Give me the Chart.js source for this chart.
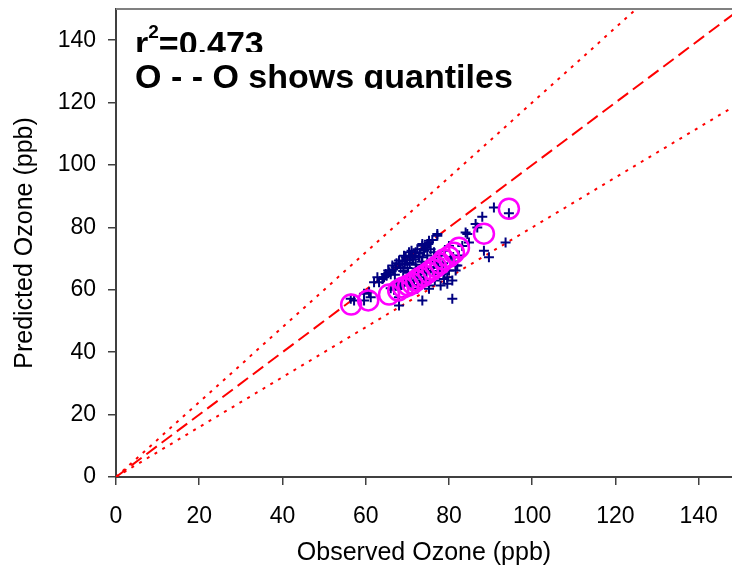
<!DOCTYPE html>
<html>
<head>
<meta charset="utf-8">
<script src="https://cdn.jsdelivr.net/npm/chart.js@4/dist/chart.umd.min.js"></script>
<style>
  html, body { margin: 0; padding: 0; background: #fff; }
  #wrap { width: 732px; height: 572px; }
</style>
</head>
<body>
<div id="wrap"><canvas id="ozoneChart" width="732" height="572"></canvas></div>
<script>
// observed vs predicted ozone, one point per day (ppb)
const obsX = [
  56.4, 57.2, 59.6, 59.6, 60.8, 61.2, 62.0, 62.8, 63.2, 64.4,
  64.8, 65.6, 66.4, 67.2, 68.0, 68.0, 69.2, 69.6, 70.4, 70.8,
  72.0, 73.6, 73.6, 74.8, 75.2, 75.2, 77.2, 77.2, 84.0, 84.4,
  86.4, 86.8, 88.0, 90.8, 94.4, 93.6, 88.4, 89.6, 84.8, 68.0,
  68.0, 73.6, 80.8, 75.2, 75.2, 78.0, 74.0, 77.6, 79.2, 79.6,
  78.8, 79.6, 80.0, 80.8, 81.6, 81.6, 82.0, 72.4, 70.8, 71.2,
  73.6, 64.0, 65.0, 65.4, 66.0, 66.6, 67.0, 67.4, 68.4, 68.8,
  69.0, 69.4, 70.0, 70.0, 70.6, 71.0, 71.4, 71.8, 72.0, 72.4,
  72.8, 73.0, 73.4, 74.0, 74.4, 74.8, 75.6, 76.0, 76.4, 67.6,
  69.6, 71.0, 72.6, 74.0, 75.6, 77.0, 78.0, 79.0, 80.0, 66.0,
  68.2, 70.4, 73.0, 76.6, 78.4, 81.0, 82.4, 83.2, 66.8, 68.6,
  69.8, 71.6, 73.2, 74.6, 76.2, 77.4, 78.6, 80.4, 70.2, 72.2
];
const predY = [
  57.1, 56.6, 58.7, 56.6, 59.2, 57.6, 62.4, 64.0, 62.4, 64.0,
  65.1, 65.6, 67.8, 67.2, 69.4, 68.3, 70.9, 70.4, 72.0, 70.9,
  72.0, 74.1, 74.7, 74.7, 75.7, 75.2, 77.9, 77.3, 78.4, 77.9,
  81.1, 80.0, 83.4, 86.4, 84.5, 75.2, 72.5, 70.4, 75.2, 55.0,
  57.6, 56.6, 57.1, 60.3, 61.4, 61.4, 63.0, 65.1, 66.2, 64.0,
  63.5, 61.9, 66.2, 63.0, 66.2, 67.8, 67.8, 60.3, 61.4, 70.4,
  70.4, 63.5, 64.5, 66.2, 65.0, 66.5, 64.8, 68.5, 67.0, 69.0,
  66.0, 68.0, 69.5, 67.0, 68.6, 72.5, 69.8, 71.0, 68.0, 73.0,
  70.5, 71.8, 69.0, 72.5, 73.5, 71.0, 73.0, 76.0, 72.0, 62.0,
  63.0, 64.5, 65.0, 66.5, 67.0, 69.0, 71.0, 72.5, 74.0, 60.5,
  61.0, 62.0, 61.5, 63.0, 66.0, 70.5, 71.0, 74.0, 60.0, 61.5,
  62.5, 63.0, 64.0, 65.5, 66.0, 67.5, 68.5, 70.0, 65.5, 66.8
];

// quantiles of observed vs quantiles of predicted
const quantObs = [56.5, 60.6, 65.6, 67.8, 69.0, 70.2, 71.2, 72.1, 73.1, 74.0,
                  75.0, 76.0, 76.9, 77.9, 78.8, 80.0, 81.2, 82.4, 88.4, 94.4];
const quantPred = [55.3, 56.6, 58.5, 59.8, 60.7, 61.4, 62.0, 63.0, 63.9, 64.6,
                   65.5, 66.5, 67.4, 68.4, 69.7, 70.6, 71.9, 73.5, 78.0, 86.0];

// reference lines: 1:1 and the +/-20% band
const refX = [0, 150];
const oneToOne = [0, 150];
const upperBand = [0, 180];
const lowerBand = [0, 120];

const FONT = "'Liberation Sans', Arial, sans-serif";

function pairs(xs, ys) {
  return xs.map((x, i) => ({ x: x, y: ys[i] }));
}

// top frame line and the two text boxes in the corner
const frameAndNotes = {
  id: 'frameAndNotes',
  afterDraw(chart) {
    const ctx = chart.ctx;
    const a = chart.chartArea;
    ctx.save();
    ctx.strokeStyle = '#808080';
    ctx.lineWidth = 2;
    ctx.beginPath();
    ctx.moveTo(a.left, a.top);
    ctx.lineTo(chart.width, a.top);
    ctx.stroke();

    ctx.fillStyle = '#000';
    ctx.textBaseline = 'alphabetic';
    // first box: r squared
    ctx.save();
    ctx.beginPath();
    ctx.rect(a.left + 2, a.top + 2, 500, 52 - a.top - 2);
    ctx.clip();
    ctx.font = 'bold 34px ' + FONT;
    ctx.fillText('r', 135, 55);
    const rw = ctx.measureText('r').width;
    ctx.font = 'bold 19px ' + FONT;
    ctx.fillText('2', 135 + rw, 38);
    const sw = ctx.measureText('2').width;
    ctx.font = 'bold 34px ' + FONT;
    ctx.fillText('=0.473', 135 + rw + sw, 55);
    ctx.restore();
    // second box
    ctx.save();
    ctx.beginPath();
    ctx.rect(a.left + 2, 52, 500, 37);
    ctx.clip();
    ctx.font = 'bold 34px ' + FONT;
    ctx.fillText('O - - O shows quantiles', 135, 88);
    ctx.restore();
    ctx.restore();
  }
};

new Chart(document.getElementById('ozoneChart'), {
  type: 'scatter',
  data: {
    datasets: [
      {
        label: 'quantiles',
        data: pairs(quantObs, quantPred),
        pointStyle: 'circle',
        pointRadius: 10,
        borderColor: '#FF00FF',
        backgroundColor: 'rgba(0,0,0,0)',
        borderWidth: 2.5,
        order: 0
      },
      {
        label: 'daily',
        data: pairs(obsX, predY),
        pointStyle: 'cross',
        pointRadius: 5,
        borderColor: '#000080',
        backgroundColor: '#000080',
        borderWidth: 2,
        order: 1
      },
      {
        label: '1:1',
        data: pairs(refX, oneToOne),
        showLine: true,
        pointRadius: 0,
        borderColor: '#FF0000',
        borderWidth: 2,
        borderDash: [13, 6],
        order: 2
      },
      {
        label: 'upper',
        data: pairs(refX, upperBand),
        showLine: true,
        pointRadius: 0,
        borderColor: '#FF0000',
        borderWidth: 2,
        borderDash: [3, 6],
        order: 3
      },
      {
        label: 'lower',
        data: pairs(refX, lowerBand),
        showLine: true,
        pointRadius: 0,
        borderColor: '#FF0000',
        borderWidth: 2,
        borderDash: [3, 6],
        order: 4
      }
    ]
  },
  options: {
    responsive: false,
    animation: false,
    layout: { autoPadding: false, padding: { top: 9, right: 0, left: 0, bottom: 0 } },
    plugins: {
      legend: { display: false },
      tooltip: { enabled: false }
    },
    scales: {
      x: {
        type: 'linear',
        min: 0,
        max: 148,
        afterFit(scale) {
          scale.height = 95;
          scale.paddingLeft = 0;
          scale.paddingRight = 0;
        },
        border: { display: true, color: '#404040', width: 2 },
        grid: { drawOnChartArea: false, drawTicks: true, tickLength: 8, color: '#404040', lineWidth: 1.5 },
        ticks: { stepSize: 20, includeBounds: false, color: '#000', padding: 18, maxRotation: 0,
                 font: { family: FONT, size: 23 } },
        title: { display: true, text: 'Observed Ozone (ppb)', color: '#000',
                 font: { family: FONT, size: 25 }, padding: { top: 0, bottom: 4 } }
      },
      y: {
        type: 'linear',
        min: 0,
        max: 150,
        afterFit(scale) {
          scale.width = 116;
          scale.paddingTop = 0;
          scale.paddingBottom = 0;
        },
        border: { display: true, color: '#404040', width: 2 },
        grid: { drawOnChartArea: false, drawTicks: true, tickLength: 8, color: '#404040', lineWidth: 1.5 },
        ticks: { stepSize: 20, includeBounds: false, color: '#000', padding: 12,
                 font: { family: FONT, size: 23 } },
        title: { display: true, text: 'Predicted Ozone (ppb)', color: '#000',
                 font: { family: FONT, size: 25 }, padding: { top: 10, bottom: 0 } }
      }
    }
  },
  plugins: [frameAndNotes]
});
</script>
</body>
</html>
